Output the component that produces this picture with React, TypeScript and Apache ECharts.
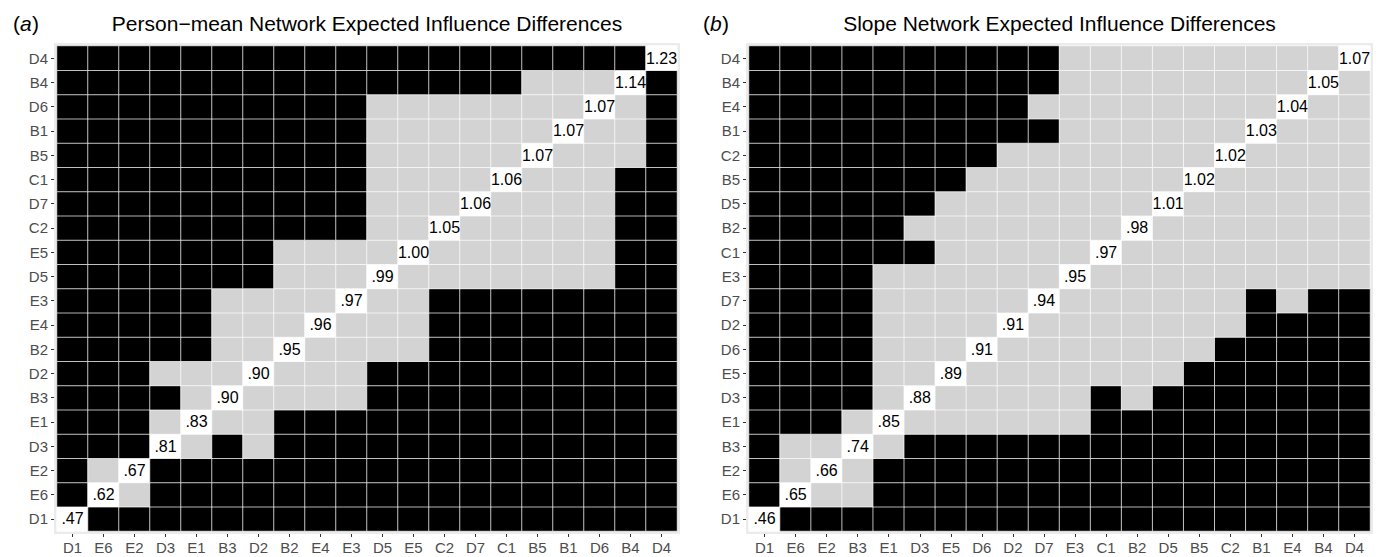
import React, { useEffect, useRef } from "react";
import * as echarts from "echarts";

// ---------- Panel (a): Person-mean ----------
const catsA = ["D1", "E6", "E2", "D3", "E1", "B3", "D2", "B2", "E4", "E3", "D5", "E5", "C2", "D7", "C1", "B5", "B1", "D6", "B4", "D4"];
const diagA = [".47", ".62", ".67", ".81", ".83", ".90", ".90", ".95", ".96", ".97", ".99", "1.00", "1.05", "1.06", "1.06", "1.07", "1.07", "1.07", "1.14", "1.23"];
// rows from bottom (D1) to top (D4); '0' = significant (black), '1' = not significant (grey), 'x' = diagonal
const matA = [
  "x0000000000000000000",
  "0x100000000000000000",
  "01x00000000000000000",
  "000x1010000000000000",
  "0001x110000000000000",
  "00001x11110000000000",
  "000111x1110000000000",
  "0000011x111100000000",
  "00000111x11100000000",
  "000001111x1100000000",
  "0000000111x111111100",
  "00000001111x11111100",
  "000000000011x1111100",
  "0000000000111x111100",
  "00000000001111x11100",
  "000000000011111x1110",
  "0000000000111111x110",
  "00000000001111111x10",
  "000000000000000111x0",
  "0000000000000000000x",
];

// ---------- Panel (b): Slope ----------
const catsB = ["D1", "E6", "E2", "B3", "E1", "D3", "E5", "D6", "D2", "D7", "E3", "C1", "B2", "D5", "B5", "C2", "B1", "E4", "B4", "D4"];
const diagB = [".46", ".65", ".66", ".74", ".85", ".88", ".89", ".91", ".91", ".94", ".95", ".97", ".98", "1.01", "1.02", "1.02", "1.03", "1.04", "1.05", "1.07"];
const matB = [
  "x0000000000000000000",
  "0x110000000000000000",
  "01x10000000000000000",
  "011x1000000000000000",
  "0001x111111000000000",
  "00001x11111010000000",
  "000011x1111111000000",
  "0000111x111111100000",
  "00001111x11111110000",
  "000011111x1111110100",
  "0000111111x111111111",
  "00000011111x11111111",
  "000001111111x1111111",
  "0000001111111x111111",
  "00000001111111x11111",
  "000000001111111x1111",
  "0000000000111111x111",
  "00000000011111111x11",
  "000000000011111111x1",
  "0000000000111111111x",
];

const titleA = "Person\u2212mean Network Expected Influence Differences";
const titleB = "Slope Network Expected Influence Differences";

const FONT = "'Liberation Sans', Arial, Helvetica, sans-serif";

function buildData(mat: string[]) {
  const out: number[][] = [];
  mat.forEach((row, i) => {
    for (let j = 0; j < row.length; j++) {
      const ch = row[j];
      out.push([j, i, ch === "x" ? 2 : ch === "1" ? 1 : 0]);
    }
  });
  return out;
}

export default function App() {
  const ref = useRef<HTMLDivElement>(null);
  useEffect(() => {
    if (!ref.current) return;
    const chart = echarts.init(ref.current, null, { renderer: "svg" });
    const grids = [
      { left: 57, top: 46, width: 620, height: 485 },
      { left: 749, top: 46, width: 621, height: 485 },
    ];
    const cats = [catsA, catsB];
    const diags = [diagA, diagB];
    const mats = [matA, matB];
    const option: any = {
      animation: false,
      backgroundColor: "#ffffff",
      grid: grids.map((g) => ({
        ...g,
        show: true,
        backgroundColor: "#EBEBEB",
        borderColor: "#EBEBEB",
        borderWidth: 6,
        containLabel: false,
      })),
      xAxis: cats.map((c, k) => ({
        type: "category",
        gridIndex: k,
        data: c,
        offset: 3,
        axisLine: { show: false },
        axisTick: { show: true, alignWithLabel: true, length: 3, lineStyle: { color: "#333333", width: 1 } },
        axisLabel: { color: "#4D4D4D", fontSize: 15, fontFamily: FONT, margin: 6, interval: 0 },
        splitLine: { show: false },
      })),
      yAxis: cats.map((c, k) => ({
        type: "category",
        gridIndex: k,
        data: c,
        offset: 3,
        axisLine: { show: false },
        axisTick: { show: true, alignWithLabel: true, length: 3, lineStyle: { color: "#333333", width: 1 } },
        axisLabel: { color: "#4D4D4D", fontSize: 15, fontFamily: FONT, margin: 6, interval: 0 },
        splitLine: { show: false },
      })),
      visualMap: {
        type: "piecewise",
        show: false,
        dimension: 2,
        seriesIndex: [0, 1],
        pieces: [
          { value: 0, color: "#000000" },
          { value: 1, color: "#D3D3D3" },
          { value: 2, color: "#FFFFFF" },
        ],
      },
      series: mats.map((m, k) => ({
        type: "heatmap",
        xAxisIndex: k,
        yAxisIndex: k,
        data: buildData(m),
        itemStyle: { borderColor: "rgba(255,255,255,0.7)", borderWidth: 1 },
        emphasis: { disabled: true },
        label: {
          show: true,
          color: "#000000",
          fontSize: 16,
          fontFamily: FONT,
          formatter: (p: any) => (p.value[0] === p.value[1] ? diags[k][p.value[0]] : ""),
        },
      })),
      graphic: [
        {
          type: "text",
          x: 367,
          y: 23,
          style: { text: titleA, font: `21px ${FONT}`, fill: "#000", align: "center", verticalAlign: "middle" },
        },
        {
          type: "text",
          x: 1059.5,
          y: 23,
          style: { text: titleB, font: `21px ${FONT}`, fill: "#000", align: "center", verticalAlign: "middle" },
        },
        {
          type: "group",
          x: 13,
          y: 23,
          children: [
            { type: "text", x: 0, y: 0, style: { text: "(", font: `21px ${FONT}`, fill: "#000", verticalAlign: "middle" } },
            { type: "text", x: 7, y: 0, style: { text: "a", font: `italic 21px ${FONT}`, fill: "#000", verticalAlign: "middle" } },
            { type: "text", x: 19, y: 0, style: { text: ")", font: `21px ${FONT}`, fill: "#000", verticalAlign: "middle" } },
          ],
        },
        {
          type: "group",
          x: 703,
          y: 23,
          children: [
            { type: "text", x: 0, y: 0, style: { text: "(", font: `21px ${FONT}`, fill: "#000", verticalAlign: "middle" } },
            { type: "text", x: 7, y: 0, style: { text: "b", font: `italic 21px ${FONT}`, fill: "#000", verticalAlign: "middle" } },
            { type: "text", x: 19, y: 0, style: { text: ")", font: `21px ${FONT}`, fill: "#000", verticalAlign: "middle" } },
          ],
        },
      ],
    };
    chart.setOption(option);
    return () => chart.dispose();
  }, []);
  return (
    <div
      ref={ref}
      style={{ position: "fixed", left: 0, top: 0, width: 1385, height: 557, background: "#fff" }}
    />
  );
}
